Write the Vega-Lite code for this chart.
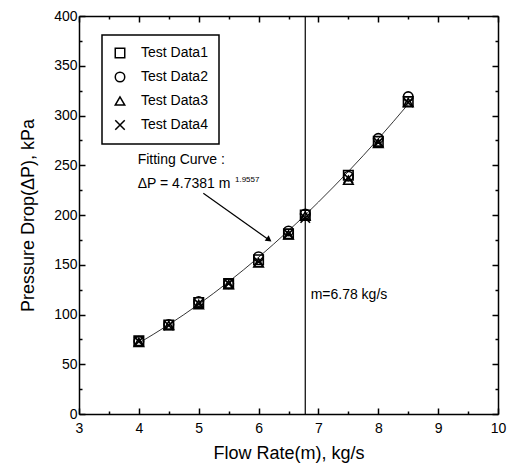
{
  "$schema": "https://vega.github.io/schema/vega-lite/v6.json",
  "width": 419,
  "height": 398,
  "autosize": {"type": "none"},
  "padding": {"left": 79, "top": 16, "right": 10, "bottom": 58},
  "background": "white",
  "config": {
    "view": {"stroke": null},
    "font": "Liberation Sans",
    "axis": {"grid": false, "domainColor": "black", "domainWidth": 1.5, "tickColor": "black", "tickWidth": 1.5, "labelColor": "black", "titleColor": "black", "labelFont": "Liberation Sans", "titleFont": "Liberation Sans", "titleFontWeight": "normal"},
    "legend": {
      "orient": "none", "legendX": 23, "legendY": 19, "strokeColor": "black", "strokeWidth": 1.5,
      "padding": 11, "labelFontSize": 14, "labelColor": "black", "labelFont": "Liberation Sans",
      "symbolSize": 90, "symbolStrokeColor": "black", "symbolFillColor": "transparent", "symbolStrokeWidth": 1.5,
      "rowPadding": 8, "labelOffset": 14, "fillColor": "white"
    }
  },
  "datasets": {
    "pts": [
      {"m": 4, "dp": 73.5, "series": "Test Data1"},
      {"m": 4.5, "dp": 89.5, "series": "Test Data1"},
      {"m": 5, "dp": 112, "series": "Test Data1"},
      {"m": 5.5, "dp": 131, "series": "Test Data1"},
      {"m": 6, "dp": 155, "series": "Test Data1"},
      {"m": 6.5, "dp": 181, "series": "Test Data1"},
      {"m": 6.78, "dp": 200, "series": "Test Data1"},
      {"m": 7.5, "dp": 240, "series": "Test Data1"},
      {"m": 8, "dp": 274, "series": "Test Data1"},
      {"m": 8.5, "dp": 314, "series": "Test Data1"},
      {"m": 4, "dp": 73, "series": "Test Data2"},
      {"m": 4.5, "dp": 90, "series": "Test Data2"},
      {"m": 5, "dp": 113, "series": "Test Data2"},
      {"m": 5.5, "dp": 131, "series": "Test Data2"},
      {"m": 6, "dp": 158, "series": "Test Data2"},
      {"m": 6.5, "dp": 184, "series": "Test Data2"},
      {"m": 6.78, "dp": 201, "series": "Test Data2"},
      {"m": 7.5, "dp": 239, "series": "Test Data2"},
      {"m": 8, "dp": 277, "series": "Test Data2"},
      {"m": 8.5, "dp": 319, "series": "Test Data2"},
      {"m": 4, "dp": 72, "series": "Test Data3"},
      {"m": 4.5, "dp": 89, "series": "Test Data3"},
      {"m": 5, "dp": 110, "series": "Test Data3"},
      {"m": 5.5, "dp": 130, "series": "Test Data3"},
      {"m": 6, "dp": 152, "series": "Test Data3"},
      {"m": 6.5, "dp": 180, "series": "Test Data3"},
      {"m": 6.78, "dp": 199, "series": "Test Data3"},
      {"m": 7.5, "dp": 235, "series": "Test Data3"},
      {"m": 8, "dp": 272, "series": "Test Data3"},
      {"m": 8.5, "dp": 313, "series": "Test Data3"},
      {"m": 4, "dp": 73, "series": "Test Data4"},
      {"m": 4.5, "dp": 89, "series": "Test Data4"},
      {"m": 5, "dp": 111, "series": "Test Data4"},
      {"m": 5.5, "dp": 131, "series": "Test Data4"},
      {"m": 6, "dp": 153, "series": "Test Data4"},
      {"m": 6.5, "dp": 181, "series": "Test Data4"},
      {"m": 6.78, "dp": 197, "series": "Test Data4"},
      {"m": 7.5, "dp": 237, "series": "Test Data4"},
      {"m": 8, "dp": 273, "series": "Test Data4"},
      {"m": 8.5, "dp": 313, "series": "Test Data4"}
    ],
    "fit": [
      {"m": 4, "dp": 71.3},
      {"m": 4.5, "dp": 89.8},
      {"m": 5, "dp": 110.3},
      {"m": 5.5, "dp": 132.9},
      {"m": 6, "dp": 157.5},
      {"m": 6.5, "dp": 184.3},
      {"m": 6.78, "dp": 200.0},
      {"m": 7, "dp": 213.0},
      {"m": 7.5, "dp": 243.7},
      {"m": 8, "dp": 276.5},
      {"m": 8.5, "dp": 311.4}
    ],
    "notes": [
      {"x": 3.98, "y": 255.3, "label": "Fitting Curve :"},
      {"x": 3.98, "y": 231.2, "label": "ΔP = 4.7381 m"},
      {"x": 6.87, "y": 119.6, "label": "m=6.78 kg/s"}
    ],
    "sup": [
      {"x": 5.606, "y": 235.5, "label": "1.9557"}
    ],
    "vline": [{"m": 6.78}],
    "arrow": [{"x": 5.077, "y": 221.8, "x2": 6.17, "y2": 175.2}],
    "head": [{"x": 6.175, "y": 175.2}]
  },
  "resolve": {"axis": {"x": "independent", "y": "independent"}},
  "layer": [
    {
      "data": {"name": "fit"},
      "mark": {"type": "line", "color": "black", "strokeWidth": 0.8, "interpolate": "monotone"},
      "encoding": {
        "x": {"field": "m", "type": "quantitative", "scale": {"domain": [3, 10], "zero": false, "nice": false},
          "axis": {"orient": "bottom", "values": [3, 4, 5, 6, 7, 8, 9, 10], "tickSize": -6, "labelFontSize": 14, "labelPadding": 13, "title": "Flow Rate(m), kg/s", "titleFontSize": 18, "titlePadding": 9, "labelFlush": false}},
        "y": {"field": "dp", "type": "quantitative", "scale": {"domain": [0, 400], "nice": false},
          "axis": {"orient": "left", "values": [0, 50, 100, 150, 200, 250, 300, 350, 400], "tickSize": -6, "labelFontSize": 14, "labelPadding": 8, "title": "Pressure Drop(ΔP), kPa", "titleFontSize": 18, "titlePadding": 16, "labelFlush": false}}
      }
    },
    {
      "data": {"name": "pts"},
      "mark": {"type": "point", "filled": false, "strokeWidth": 1.6, "color": "black", "opacity": 1},
      "encoding": {
        "x": {"field": "m", "type": "quantitative",
          "axis": {"orient": "bottom", "values": [3.5, 4.5, 5.5, 6.5, 7.5, 8.5, 9.5], "tickSize": -3, "labels": false, "domain": false, "title": null}},
        "y": {"field": "dp", "type": "quantitative",
          "axis": {"orient": "left", "values": [25, 75, 125, 175, 225, 275, 325, 375], "tickSize": -3, "labels": false, "domain": false, "title": null}},
        "shape": {"field": "series", "type": "nominal",
          "scale": {"range": ["square", "circle", "triangle-up", "M-1,-1L1,1M1,-1L-1,1"]},
          "legend": {"title": null}},
        "size": {"value": 90}
      }
    },
    {
      "data": {"name": "vline"},
      "mark": {"type": "rule", "color": "black", "strokeWidth": 1.2},
      "encoding": {"x": {"field": "m", "type": "quantitative", "axis": null}}
    },
    {
      "data": {"name": "notes"},
      "mark": {"type": "text", "align": "left", "baseline": "middle", "fontSize": 14, "color": "black", "font": "Liberation Sans"},
      "encoding": {
        "x": {"field": "x", "type": "quantitative",
          "axis": {"orient": "top", "values": [3, 4, 5, 6, 7, 8, 9, 10], "tickSize": -6, "labels": false, "title": null}},
        "y": {"field": "y", "type": "quantitative",
          "axis": {"orient": "right", "values": [0, 50, 100, 150, 200, 250, 300, 350, 400], "tickSize": -6, "labels": false, "title": null}},
        "text": {"field": "label"}
      }
    },
    {
      "data": {"name": "sup"},
      "mark": {"type": "text", "align": "left", "baseline": "middle", "fontSize": 8, "color": "black", "font": "Liberation Sans"},
      "encoding": {
        "x": {"field": "x", "type": "quantitative",
          "axis": {"orient": "top", "values": [3.5, 4.5, 5.5, 6.5, 7.5, 8.5, 9.5], "tickSize": -3, "labels": false, "domain": false, "title": null}},
        "y": {"field": "y", "type": "quantitative",
          "axis": {"orient": "right", "values": [25, 75, 125, 175, 225, 275, 325, 375], "tickSize": -3, "labels": false, "domain": false, "title": null}},
        "text": {"field": "label"}
      }
    },
    {
      "data": {"name": "arrow"},
      "mark": {"type": "rule", "color": "black", "strokeWidth": 1.2},
      "encoding": {
        "x": {"field": "x", "type": "quantitative", "axis": null},
        "y": {"field": "y", "type": "quantitative", "axis": null},
        "x2": {"field": "x2"},
        "y2": {"field": "y2"}
      }
    },
    {
      "data": {"name": "head"},
      "mark": {"type": "point", "shape": "triangle-up", "filled": true, "color": "black", "size": 45, "angle": 126, "opacity": 1},
      "encoding": {
        "x": {"field": "x", "type": "quantitative", "axis": null},
        "y": {"field": "y", "type": "quantitative", "axis": null}
      }
    }
  ]
}
